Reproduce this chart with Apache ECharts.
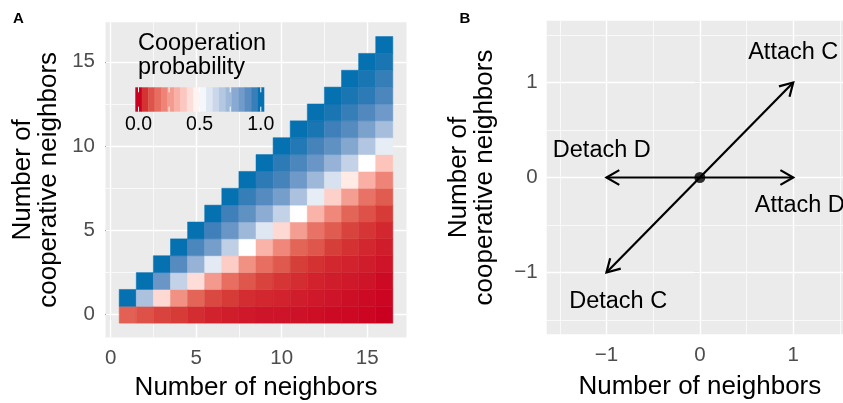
<!DOCTYPE html>
<html><head><meta charset="utf-8">
<script src="https://cdn.jsdelivr.net/npm/echarts@6/dist/echarts.min.js"></script>
<style>html,body{margin:0;padding:0;background:#fff}#c{width:843px;height:403px}</style>
</head><body><div id="c"></div>
<script>
// ---------- Panel A data: cooperation probability, index = number of cooperative neighbors ----------
const neighbors = [1,2,3,4,5,6,7,8,9,10,11,12,13,14,15,16];
const p1  = [0.13, 1.00];
const p2  = [0.10, 0.71, 1.00];
const p3  = [0.075, 0.41, 0.86, 1.00];
const p4  = [0.06, 0.24, 0.65, 0.90, 1.00];
const p5  = [0.045, 0.14, 0.42, 0.76, 0.92, 1.00];
const p6  = [0.035, 0.085, 0.26, 0.57, 0.83, 0.94, 1.00];
const p7  = [0.03, 0.06, 0.16, 0.38, 0.66, 0.86, 0.94, 1.00];
const p8  = [0.025, 0.045, 0.11, 0.24, 0.50, 0.74, 0.88, 0.95, 1.00];
const p9  = [0.02, 0.04, 0.075, 0.16, 0.32, 0.58, 0.78, 0.90, 0.96, 1.00];
const p10 = [0.02, 0.035, 0.055, 0.115, 0.22, 0.41, 0.65, 0.83, 0.93, 0.96, 1.00];
const p11 = [0.018, 0.03, 0.045, 0.065, 0.14, 0.27, 0.50, 0.71, 0.85, 0.92, 0.97, 1.00];
const p12 = [0.014, 0.025, 0.035, 0.05, 0.11, 0.17, 0.32, 0.56, 0.74, 0.86, 0.93, 0.98, 1.00];
const p13 = [0.01, 0.02, 0.03, 0.04, 0.065, 0.12, 0.22, 0.39, 0.60, 0.76, 0.88, 0.94, 0.98, 1.00];
const p14 = [0.008, 0.015, 0.025, 0.035, 0.05, 0.075, 0.14, 0.27, 0.45, 0.65, 0.80, 0.90, 0.95, 0.98, 1.00];
const p15 = [0.005, 0.01, 0.02, 0.03, 0.04, 0.055, 0.10, 0.17, 0.31, 0.50, 0.69, 0.82, 0.91, 0.96, 0.98, 1.00];
const p16 = [0.0, 0.005, 0.01, 0.02, 0.03, 0.04, 0.06, 0.12, 0.21, 0.36, 0.56, 0.72, 0.85, 0.92, 0.95, 0.98, 1.00];

const xTicksA = [0, 5, 10, 15];
const xMinorA = [2.5, 7.5, 12.5];
const yTicksA = [0, 5, 10, 15];
const yMinorA = [2.5, 7.5, 12.5];
const legendBreaks = [0, 0.25, 0.5, 0.75, 1];
const legendLabelValues = [0, 0.5, 1];
const legendLabels = ['0.0', '0.5', '1.0'];

// ---------- Panel B data ----------
const arrowFromX = [0, 0, 0, 0];
const arrowFromY = [0, 0, 0, 0];
const arrowToX   = [1, 1, -1, -1];
const arrowToY   = [1, 0, 0, -1];
const labelText  = ['Attach C', 'Attach D', 'Detach D', 'Detach C'];
const labelX     = [1.0, 1.07, -1.05, -0.875];
const labelY     = [1.31, -0.30, 0.285, -1.30];
const pointX = [0];
const pointY = [0];
const xTicksB = [-1, 0, 1];
const xMinorB = [-1.5, -0.5, 0.5, 1.5];
const yTicksB = [-1, 0, 1];
const yMinorB = [-1.5, -0.5, 0.5, 1.5];

// ---------- styling ----------
const FONT = '"Liberation Sans", Arial, Helvetica, sans-serif';
const palette = ['#ca0020','#d63d38','#e15e52','#eb7a6d','#f29588','#f9b0a5','#fdcac2','#ffe5e0','#ffffff',
                 '#e6ecf5','#cdd9eb','#b4c7e1','#9ab5d8','#7ea3ce','#6392c4','#4281ba','#0571b0'];
function hexToRgb(h){return [1,3,5].map(i=>parseInt(h.substr(i,2),16));}
function colorAt(v){
  const n = palette.length-1, t = v*n, i = Math.min(Math.floor(t), n-1), f = t-i;
  const a = hexToRgb(palette[i]), b = hexToRgb(palette[i+1]);
  return 'rgb(' + a.map((c,j)=>Math.round(c+(b[j]-c)*f)).join(',') + ')';
}
const minusFmt = v => (v < 0 ? '\u2212' + Math.abs(v) : String(v));

const probCols = [p1,p2,p3,p4,p5,p6,p7,p8,p9,p10,p11,p12,p13,p14,p15,p16];
const heatData = [];
probCols.forEach((col, i) => col.forEach((v, k) => heatData.push([neighbors[i], k, v])));

const gridA = {left: 105.5, top: 22.2, width: 301, height: 315.3};
const gridB = {left: 546.7, top: 20.7, width: 306.3, height: 313.6};

function gridLines(idx, xMaj, xMin, yMaj, yMin) {
  const d = [];
  xMin.forEach(v => d.push({xAxis: v, lineStyle: {width: 0.7}}));
  yMin.forEach(v => d.push({yAxis: v, lineStyle: {width: 0.7}}));
  xMaj.forEach(v => d.push({xAxis: v, lineStyle: {width: 1.4}}));
  yMaj.forEach(v => d.push({yAxis: v, lineStyle: {width: 1.4}}));
  return {
    type: 'line', xAxisIndex: idx, yAxisIndex: idx, data: [], z: 1, silent: true,
    markLine: {z: 1, silent: true, symbol: ['none','none'], animation: false, label: {show: false},
      emphasis: {disabled: true}, lineStyle: {color: '#ffffff', type: 'solid'}, data: d}
  };
}

function axisCommon(ticks, margin, fmt) {
  return {
    type: 'value', axisLine: {show: false}, splitLine: {show: false},
    axisTick: {show: true, customValues: ticks, length: 5.5, lineStyle: {color: '#333333', width: 1.1}},
    axisLabel: {customValues: ticks, margin: margin, color: '#4D4D4D', fontSize: 20.5, fontFamily: FONT, formatter: fmt},
    nameLocation: 'middle', nameMoveOverlap: false,
    nameTextStyle: {fontSize: 26, lineHeight: 26, color: '#000', fontFamily: FONT}
  };
}

// legend (colorbar) graphic
const barX = 135.3, barY = 87.3, barW = 128.7, barH = 24.4, nBin = 20;
const binW = barW / nBin;
const legendEls = [];
for (let i = 0; i < nBin; i++) {
  legendEls.push({type: 'rect', shape: {x: barX + i*binW, y: barY, width: binW + 0.3, height: barH},
    style: {fill: colorAt(i/(nBin-1))}, z: 20, silent: true});
}
const tickPos = v => barX + binW/2 + v*(barW - binW);
legendBreaks.forEach(v => {
  legendEls.push({type: 'line', shape: {x1: tickPos(v), y1: barY, x2: tickPos(v), y2: barY + 5}, style: {stroke: '#fff', lineWidth: 1}, z: 21, silent: true});
  legendEls.push({type: 'line', shape: {x1: tickPos(v), y1: barY + barH - 5, x2: tickPos(v), y2: barY + barH}, style: {stroke: '#fff', lineWidth: 1}, z: 21, silent: true});
});
legendLabelValues.forEach((v, i) => {
  legendEls.push({type: 'text', x: tickPos(v), y: 124.7, z: 21, silent: true,
    style: {text: legendLabels[i], fill: '#000', font: '19.5px ' + FONT, align: 'center', verticalAlign: 'middle'}});
});
legendEls.push({type: 'text', x: 138, y: 32.2, z: 21, silent: true,
  style: {text: 'Cooperation\nprobability', fill: '#000', font: '23.5px ' + FONT, lineHeight: 23.3, align: 'left', verticalAlign: 'top'}});
legendEls.push({type: 'text', x: 13, y: 11, silent: true,
  style: {text: 'A', fill: '#000', font: 'bold 15px ' + FONT, align: 'left', verticalAlign: 'top'}});
legendEls.push({type: 'text', x: 459.5, y: 11, silent: true,
  style: {text: 'B', fill: '#000', font: 'bold 15px ' + FONT, align: 'left', verticalAlign: 'top'}});

const chart = echarts.init(document.getElementById('c'), null, {renderer: 'canvas'});
chart.setOption({
  animation: false,
  backgroundColor: '#ffffff',
  grid: [
    Object.assign({show: true, backgroundColor: '#EBEBEB', borderWidth: 0, containLabel: false, outerBoundsMode: 'none'}, gridA),
    Object.assign({show: true, backgroundColor: '#EBEBEB', borderWidth: 0, containLabel: false, outerBoundsMode: 'none'}, gridB)
  ],
  xAxis: [
    Object.assign(axisCommon(xTicksA, 10, null), {gridIndex: 0, min: -0.3, max: 17.3, name: 'Number of neighbors', nameGap: 37}),
    Object.assign(axisCommon(xTicksB, 11, minusFmt), {gridIndex: 1, min: -1.64, max: 1.64, name: 'Number of neighbors', nameGap: 39.5})
  ],
  yAxis: [
    Object.assign(axisCommon(yTicksA, 10.5, null), {gridIndex: 0, min: -1.35, max: 17.35, name: 'Number of\ncooperative neighbors', nameGap: 43.5, nameRotate: 90}),
    Object.assign(axisCommon(yTicksB, 9, minusFmt), {gridIndex: 1, min: -1.65, max: 1.65, name: 'Number of\ncooperative neighbors', nameGap: 49, nameRotate: 90})
  ],
  visualMap: {
    type: 'continuous', show: false, seriesIndex: 2, dimension: 2, min: 0, max: 1,
    inRange: {color: palette}
  },
  series: [
    gridLines(0, xTicksA, xMinorA, yTicksA, yMinorA),
    gridLines(1, xTicksB, xMinorB, yTicksB, yMinorB),
    {
      type: 'custom', xAxisIndex: 0, yAxisIndex: 0, z: 10, data: heatData,
      encode: {x: 0, y: 1},
      renderItem: function (params, api) {
        const x = api.value(0), y = api.value(1);
        const a = api.coord([x - 0.5, y + 0.5]);
        const b = api.coord([x + 0.5, y - 0.5]);
        const c = api.visual('color');
        return {type: 'rect', shape: {x: a[0], y: a[1], width: b[0] - a[0], height: b[1] - a[1]},
          style: {fill: c, stroke: c, lineWidth: 0.5}};
      }
    },
    {
      type: 'custom', xAxisIndex: 1, yAxisIndex: 1, z: 10,
      data: arrowFromX.map((x, i) => [x, arrowFromY[i], arrowToX[i], arrowToY[i]]),
      encode: {x: [0, 2], y: [1, 3]},
      renderItem: function (params, api) {
        const a = api.coord([api.value(0), api.value(1)]);
        const b = api.coord([api.value(2), api.value(3)]);
        const ang = Math.atan2(b[1] - a[1], b[0] - a[0]);
        const L = 14.8, th = Math.PI / 6;
        const h1 = [b[0] - L * Math.cos(ang - th), b[1] - L * Math.sin(ang - th)];
        const h2 = [b[0] - L * Math.cos(ang + th), b[1] - L * Math.sin(ang + th)];
        return {type: 'group', children: [
          {type: 'line', shape: {x1: a[0], y1: a[1], x2: b[0], y2: b[1]}, style: {stroke: '#000', lineWidth: 2.2}},
          {type: 'polyline', shape: {points: [h1, b, h2]}, style: {stroke: '#000', lineWidth: 2.2, fill: null}}
        ]};
      }
    },
    {
      type: 'custom', xAxisIndex: 1, yAxisIndex: 1, z: 11,
      data: labelX.map((x, i) => [x, labelY[i]]),
      renderItem: function (params, api) {
        const p = api.coord([api.value(0), api.value(1)]);
        return {type: 'text', x: p[0], y: p[1],
          style: {text: labelText[params.dataIndex], fill: '#000', font: '23.5px ' + FONT, align: 'center', verticalAlign: 'middle'}};
      }
    },
    {
      type: 'scatter', xAxisIndex: 1, yAxisIndex: 1, z: 12, symbol: 'circle', symbolSize: 11,
      itemStyle: {color: '#000'}, data: pointX.map((x, i) => [x, pointY[i]])
    }
  ],
  graphic: {elements: legendEls}
});
</script></body></html>
